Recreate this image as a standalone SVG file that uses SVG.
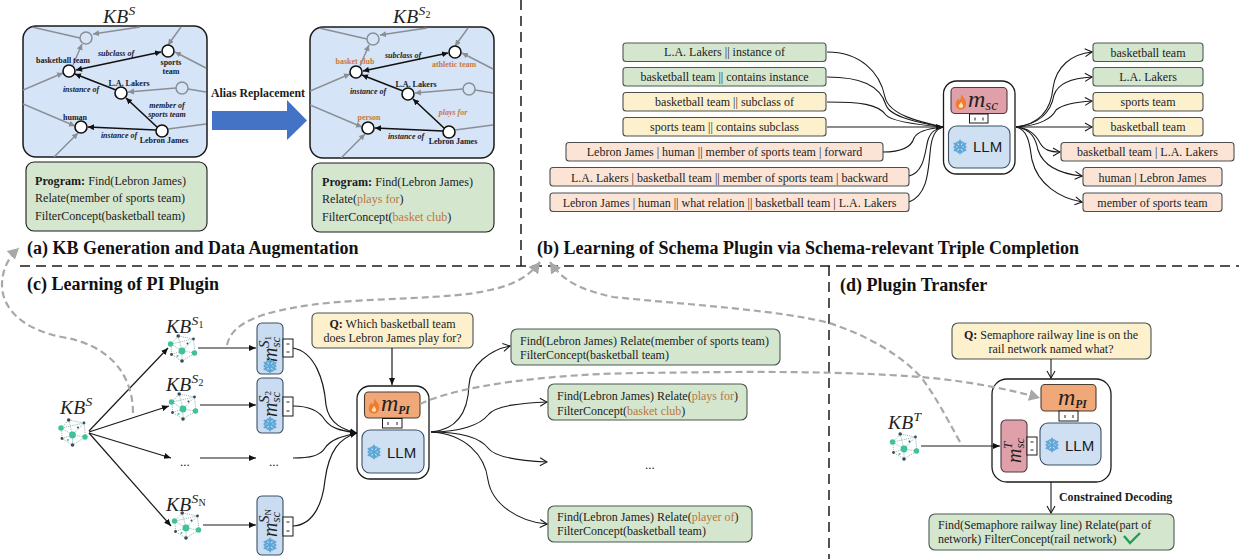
<svg xmlns="http://www.w3.org/2000/svg" width="1239" height="559" viewBox="0 0 1239 559">
<style>
text{font-family:"Liberation Serif","Times New Roman",serif;fill:#1c1c1c}
.t{font-size:12px;text-anchor:middle}
.s{font-size:12px}
.p{font-size:12.1px}
.title{font-size:18px;font-weight:bold;fill:#111}
.b{font-weight:bold}
.o{fill:#b9773f}
.n{font-size:8px;font-weight:bold;text-anchor:middle;fill:#16202c}
.ni{font-size:8px;font-weight:bold;font-style:italic;text-anchor:middle;fill:#16202c}
.no{font-size:8px;font-weight:bold;text-anchor:middle;fill:#c9793f}
.kb{font-size:19.5px;font-style:italic;fill:#222;letter-spacing:.3px}
.kb .sup{font-size:13.5px}
.kb .sub{font-size:10px;font-style:normal}
.m{font-size:24px;font-style:italic;fill:#222}
.m .sc{font-size:15px}
.m .pi{font-size:11.5px;font-weight:bold}
.r{font-size:20px}
.r .sc{font-size:13px}
.rs{font-size:15px;font-style:italic;fill:#222}
.rs tspan{font-size:9px;font-style:normal}
.llm{font-family:"Liberation Sans",Arial,sans-serif;font-size:15px;fill:#1a1a1a}
.kbbox{fill:#d6e4f7;stroke:#1a1a1a;stroke-width:1.5}
.green{fill:#d5e6cf;stroke:#4a5a52;stroke-width:1.1}
.yellow{fill:#fdf0cd;stroke:#4a5052;stroke-width:1.1}
.peach{fill:#fbe4d6;stroke:#4a5052;stroke-width:1.1}
.outer{fill:#fff;stroke:#1a1a1a;stroke-width:1.3}
.llmbox{fill:#cfe0f3;stroke:#3a5064;stroke-width:1.1}
.msc{fill:#dfa0a9;stroke:#4a3c40;stroke-width:1.1}
.mpi{fill:#f0a878;stroke:#4a3c30;stroke-width:1.1}
.side{fill:#c9dcf2;stroke:#3a5064;stroke-width:1.1}
.plug{fill:#fff;stroke:#1a1a1a;stroke-width:1}
.tick{stroke:#222;stroke-width:1}
.gr{fill:none;stroke:#8a8f96;stroke-width:1.5}
.gra{fill:none;stroke:#8a8f96;stroke-width:1.5;marker-end:url(#ga)}
.bk{fill:none;stroke:#111;stroke-width:1.6;marker-end:url(#ba)}
.gn{fill:#d6e4f7;stroke:#8a8f96;stroke-width:1.5}
.wn{fill:#fff;stroke:#111;stroke-width:1.6}
.cv{fill:none;stroke:#1a1a1a;stroke-width:1.1}
.cvo{fill:none;stroke:#1a1a1a;stroke-width:1.1;marker-end:url(#oa)}
.cvf{fill:none;stroke:#1a1a1a;stroke-width:1.2;marker-end:url(#fa)}
.dash{fill:none;stroke:#a8a8a8;stroke-width:2.2;stroke-dasharray:7 4;marker-end:url(#da)}
.div{fill:none;stroke:#1a1a1a;stroke-width:1.5;stroke-dasharray:10 6}
</style>
<defs>
<marker id="ga" markerUnits="userSpaceOnUse" markerWidth="7" markerHeight="7" refX="6" refY="3" orient="auto"><path d="M0 0L6 3L0 6z" fill="#8a8f96"/></marker>
<marker id="ba" markerUnits="userSpaceOnUse" markerWidth="7" markerHeight="7" refX="6" refY="3" orient="auto"><path d="M0 0L6 3L0 6z" fill="#111"/></marker>
<marker id="bs" markerUnits="userSpaceOnUse" markerWidth="7" markerHeight="7" refX="0" refY="3" orient="auto"><path d="M6 0L0 3L6 6z" fill="#111"/></marker>
<marker id="fa" markerUnits="userSpaceOnUse" markerWidth="8" markerHeight="8" refX="7" refY="3.5" orient="auto"><path d="M0 .5L7 3.5L0 6.5z" fill="#111"/></marker>
<marker id="oa" markerUnits="userSpaceOnUse" markerWidth="9" markerHeight="10" refX="8" refY="5" orient="auto"><path d="M1 1L8 5L1 9" fill="none" stroke="#1a1a1a" stroke-width="1.1"/></marker>
<marker id="da" markerUnits="userSpaceOnUse" markerWidth="13" markerHeight="12" refX="11" refY="6" orient="auto"><path d="M0 0L11 6L0 12z" fill="#a8a8a8"/></marker>
<g id="edges">
<path class="gr" d="M32 27L80 38"/>
<path class="gra" d="M140 27L93 34"/>
<path class="gra" d="M73 65L82 44"/>
<path class="gra" d="M181 27L168 45"/>
<path class="gra" d="M206 68L175 52"/>
<path class="gra" d="M23 90L63 73"/>
<path class="gr" d="M206 92L188 89"/>
<path class="gra" d="M176 88L128 92"/>
<path class="gra" d="M23 104L75 126"/>
<path class="gra" d="M54 157L78 133"/>
<path class="gr" d="M168 129L206 124"/>
<path class="bk" d="M156 130L88 127"/>
<path class="bk" d="M157 127L126 98"/>
<path class="bk" d="M116 90L75 74"/>
<path class="bk" style="marker-start:url(#bs)" d="M76 70L161 52"/>
<circle class="gn" cx="86" cy="38" r="6"/>
<circle class="gn" cx="182" cy="88" r="6"/>
<circle class="wn" cx="69" cy="71" r="6"/>
<circle class="wn" cx="168" cy="51" r="6"/>
<circle class="wn" cx="121" cy="93" r="6"/>
<circle class="wn" cx="81" cy="127" r="6"/>
<circle class="wn" cx="162" cy="131" r="6"/>
</g>
<g id="snow" stroke="#5ba6d6" stroke-width="1.8" fill="none" stroke-linecap="round">
<path d="M0 -6.5V6.5M-5.6 -3.2L5.6 3.2M-5.6 3.2L5.6 -3.2M-2 -5L0 -3L2 -5M-2 5L0 3L2 5M-5.5 -.5L-3 -1.5L-3.7 -4M5.5 .5L3 1.5L3.7 4M-5.5 .5L-3 1.5L-3.7 4M5.5 -.5L3 -1.5L3.7 -4"/>
</g>
<g id="flame">
<path d="M.5 -8C1.7 -4.5 5.5 -3 5.1 2.2C4.8 5.8 2.2 7.6 0 7.6C-2.9 7.6 -5.3 5.6 -5.3 2.2C-5.3 -.5 -3.6 -1.7 -2.9 -3.6C-2 -2.7 -1.7 -2 -1.5 -1.3C-.4 -2.7 .4 -5.2 .5 -8z" fill="#ef7d2c"/>
<path d="M0 0C1.1 1.7 2.4 2.8 2 4.7C1.5 6.2 -1.5 6.4 -2.2 4.4C-2.6 3.1 -.7 2.2 0 0z" fill="#fde3b8"/>
</g>
<g id="net">
<g stroke="#6f9f9d" stroke-width=".7" stroke-dasharray="1.2 1" fill="none">
<path d="M-11 -6L-3.800 -14L11.500 -11L13 3L0 11L-10.500 4.500z"/>
<path d="M-11 -6L0 1L13 3M-3.800 -14L0 1L0 11M11.500 -11L0 1L-10.500 4.500M-11 -6L11.500 -11"/>
</g>
<circle cx="0" cy="1" r="3.400" fill="#3fc19c"/>
<circle cx="-11.500" cy="-6" r="2.700" fill="#3fc19c"/>
<circle cx="12.500" cy="3" r="2.700" fill="#3fc19c"/>
<circle cx="-3.800" cy="-14" r="1.800" fill="#3d4a5a"/>
<circle cx="11.500" cy="-11" r="1.400" fill="#3d4a5a"/>
<circle cx="-10.500" cy="4.500" r="1.400" fill="#3d4a5a"/>
<circle cx="0" cy="11" r="1.800" fill="#3d4a5a"/>
<circle cx="-4.500" cy="6" r="1" fill="#3fc19c"/>
<circle cx="5.500" cy="-6.500" r="1" fill="#3d4a5a"/>
</g>
<clipPath id="kbc"><rect x="23" y="26" width="184" height="131" rx="13"/></clipPath>
</defs>

<text class="title" x="27" y="254">(a) KB Generation and Data Augmentation</text>
<text class="title" x="537" y="254">(b) Learning of Schema Plugin via Schema-relevant Triple Completion</text>
<text class="title" x="27" y="290">(c) Learning of PI Plugin</text>
<text class="title" x="840" y="291">(d) Plugin Transfer</text>

<g id="kb-s">
<rect class="kbbox" x="23" y="26" width="184" height="131" rx="13"/>
<use href="#edges" clip-path="url(#kbc)"/>
<text class="kb" x="103" y="23">KB<tspan class="sup" dy="-8">S</tspan></text>
<text class="n" x="63" y="63">basketball team</text>
<text class="n" x="171" y="65">sports</text>
<text class="n" x="171" y="74">team</text>
<text class="n" x="129" y="86">L.A. Lakers</text>
<text class="n" x="75" y="120">human</text>
<text class="n" x="164" y="143">Lebron James</text>
<text class="ni" x="116" y="56">subclass of</text>
<text class="ni" x="81" y="92">instance of</text>
<text class="ni" x="167" y="108">member of</text>
<text class="ni" x="167" y="117">sports team</text>
<text class="ni" x="119" y="138">instance of</text>
</g>
<g id="program-s">
<rect class="green" x="26" y="162" width="181" height="69" rx="8" style="stroke:#1a1a1a"/>
<text class="p" x="35" y="185"><tspan class="b">Program:</tspan> Find(Lebron James)</text>
<text class="p" x="35" y="202">Relate(member of sports team)</text>
<text class="p" x="35" y="220">FilterConcept(basketball team)</text>
</g>
<g id="alias">
<text class="b" style="font-size:11.8px" x="211" y="97">Alias Replacement</text>
<path d="M212 111H287V100L307 120.500L287 140V130H212z" fill="#4472c4"/>
</g>
<g id="kb-s2">
<rect class="kbbox" x="310" y="27" width="184" height="131" rx="13"/>
<g transform="translate(287 1)"><use href="#edges" clip-path="url(#kbc)"/></g>
<text class="kb" x="393" y="23">KB<tspan class="sup" dy="-8">S</tspan><tspan class="sub" dy="3">2</tspan></text>
<text class="no" x="355" y="64">basket club</text>
<text class="no" x="454" y="67">athletic team</text>
<text class="n" x="416" y="87">L.A. Lakers</text>
<text class="no" x="369" y="120">person</text>
<text class="n" x="453" y="144">Lebron James</text>
<text class="ni" x="403" y="58">subclass of</text>
<text class="ni" x="368" y="94">instance of</text>
<text class="no" style="font-style:italic" x="453" y="115">plays for</text>
<text class="ni" x="406" y="139">instance of</text>
</g>
<g id="program-s2">
<rect class="green" x="312" y="163" width="182" height="69" rx="8" style="stroke:#1a1a1a"/>
<text class="p" x="322" y="186"><tspan class="b">Program:</tspan> Find(Lebron James)</text>
<text class="p" x="322" y="203">Relate(<tspan class="o">plays for</tspan>)</text>
<text class="p" x="322" y="221">FilterConcept(<tspan class="o">basket club</tspan>)</text>
</g>

<g id="in1"><rect class="green" x="623" y="43" width="203" height="18.500" rx="3"/><text class="t" x="724.500" y="56">L.A. Lakers || instance of</text></g>
<g id="in2"><rect class="green" x="623" y="67.500" width="203" height="18.500" rx="3"/><text class="t" x="724.500" y="81">basketball team || contains instance</text></g>
<g id="in3"><rect class="yellow" x="623" y="92.500" width="203" height="18.500" rx="3"/><text class="t" x="724.500" y="106">basketball team || subclass of</text></g>
<g id="in4"><rect class="yellow" x="623" y="117.500" width="203" height="18.500" rx="3"/><text class="t" x="724.500" y="131">sports team || contains subclass</text></g>
<g id="in5"><rect class="peach" x="566" y="142.500" width="317" height="18.500" rx="3"/><text class="t" x="724.500" y="156">Lebron James | human || member of sports team | forward</text></g>
<g id="in6"><rect class="peach" x="550" y="167.500" width="359" height="18.500" rx="3"/><text class="t" x="729.500" y="182">L.A. Lakers | basketball team || member of sports team | backward</text></g>
<g id="in7"><rect class="peach" x="550" y="193" width="359" height="18.500" rx="3"/><text class="t" x="729.500" y="207">Lebron James | human || what relation || basketball team | L.A. Lakers</text></g>

<g id="out1"><rect class="green" x="1093" y="43" width="110" height="18.500" rx="3"/><text class="t" x="1148" y="57">basketball team</text></g>
<g id="out2"><rect class="green" x="1093" y="67.500" width="110" height="18.500" rx="3"/><text class="t" x="1148" y="81">L.A. Lakers</text></g>
<g id="out3"><rect class="yellow" x="1093" y="92.500" width="110" height="18.500" rx="3"/><text class="t" x="1148" y="106">sports team</text></g>
<g id="out4"><rect class="yellow" x="1093" y="117.500" width="110" height="18.500" rx="3"/><text class="t" x="1148" y="131">basketball team</text></g>
<g id="out5"><rect class="peach" x="1061" y="142.500" width="173" height="18.500" rx="3"/><text class="t" x="1147.500" y="156">basketball team | L.A. Lakers</text></g>
<g id="out6"><rect class="peach" x="1083" y="167.500" width="139" height="18.500" rx="3"/><text class="t" x="1152.500" y="182">human | Lebron James</text></g>
<g id="out7"><rect class="peach" x="1083" y="193" width="139" height="18.500" rx="3"/><text class="t" x="1152.500" y="207">member of sports team</text></g>

<g id="model-b">
<rect class="outer" x="943.500" y="81" width="71.500" height="93" rx="13"/>
<rect class="msc" x="951" y="87.500" width="56" height="26" rx="4"/>
<rect class="plug" x="969.500" y="114" width="18.500" height="9"/>
<path class="tick" d="M975 117.500v3M983 117.500v3"/>
<rect class="llmbox" x="948.500" y="126" width="61.500" height="42" rx="8"/>
<use href="#flame" x="961" y="102"/>
<text class="m" x="968" y="107">m<tspan class="sc" dy="3">sc</tspan></text>
<use href="#snow" x="960" y="147"/>
<text class="llm" x="973" y="152">LLM</text>
</g>

<g id="kb-root"><text class="kb" x="60" y="414">KB<tspan class="sup" dy="-8">S</tspan></text><use href="#net" x="72.500" y="434"/></g>
<g id="kb-s1"><text class="kb" x="166" y="333">KB<tspan class="sup" dy="-8">S</tspan><tspan class="sub" dy="3">1</tspan></text><use href="#net" x="182" y="350"/></g>
<g id="kb-s2b"><text class="kb" x="166" y="391">KB<tspan class="sup" dy="-8">S</tspan><tspan class="sub" dy="3">2</tspan></text><use href="#net" x="183" y="408"/></g>
<g id="kb-dots"><text style="font-size:13px" x="180" y="466">...</text><text style="font-size:13px" x="269" y="466">...</text></g>
<g id="kb-sn"><text class="kb" x="166" y="511">KB<tspan class="sup" dy="-8">S</tspan><tspan class="sub" dy="3">N</tspan></text><use href="#net" x="186" y="527"/></g>

<g id="plugin-s1">
<rect class="side" x="257" y="323" width="26" height="51" rx="5"/>
<rect class="plug" x="283" y="339" width="10" height="18"/><path class="tick" d="M286.500 344h3M286.500 352h3"/>
<text class="m r" transform="translate(277 362) rotate(-90)">m<tspan class="sc" dy="3">sc</tspan></text>
<text class="rs" transform="translate(269 348) rotate(-90)">S<tspan dy="2">1</tspan></text>
<use href="#snow" x="270" y="366"/>
</g>
<g id="plugin-s2">
<rect class="side" x="257" y="378" width="26" height="55" rx="5"/>
<rect class="plug" x="283" y="397" width="10" height="19"/><path class="tick" d="M286.500 402h3M286.500 411h3"/>
<text class="m r" transform="translate(277 417) rotate(-90)">m<tspan class="sc" dy="3">sc</tspan></text>
<text class="rs" transform="translate(269 403) rotate(-90)">S<tspan dy="2">2</tspan></text>
<use href="#snow" x="270" y="424"/>
</g>
<g id="plugin-sn">
<rect class="side" x="257" y="496" width="26" height="59" rx="5"/>
<rect class="plug" x="283" y="517" width="10" height="19"/><path class="tick" d="M286.500 522h3M286.500 531h3"/>
<text class="m r" transform="translate(277 537) rotate(-90)">m<tspan class="sc" dy="3">sc</tspan></text>
<text class="rs" transform="translate(269 523) rotate(-90)">S<tspan dy="2">N</tspan></text>
<use href="#snow" x="270" y="545"/>
</g>

<g id="question-c">
<rect class="yellow" x="312" y="313" width="161" height="35" rx="5"/>
<text class="t" x="392.500" y="328"><tspan class="b">Q:</tspan> Which basketball team</text>
<text class="t" x="392.500" y="342">does Lebron James play for?</text>
</g>
<g id="model-c">
<rect class="outer" x="357" y="386" width="72" height="93" rx="13"/>
<rect class="mpi" x="364.500" y="392" width="55.500" height="26" rx="4"/>
<rect class="plug" x="382.500" y="418.500" width="19.500" height="9.500"/>
<path class="tick" d="M388 422v3M397 422v3"/>
<rect class="llmbox" x="362" y="430" width="62" height="43" rx="8"/>
<use href="#flame" x="374" y="406"/>
<text class="m" x="381" y="411">m<tspan class="pi" dy="3">PI</tspan></text>
<use href="#snow" x="374" y="452"/>
<text class="llm" x="387" y="458">LLM</text>
</g>
<g id="res1"><rect class="green" x="511" y="329" width="269" height="36" rx="6"/><text class="s" x="520" y="345">Find(Lebron James) Relate(member of sports team)</text><text class="s" x="520" y="359">FilterConcept(basketball team)</text></g>
<g id="res2"><rect class="green" x="548" y="384" width="199" height="36" rx="6"/><text class="s" x="557" y="400">Find(Lebron James) Relate(<tspan class="o">plays for</tspan>)</text><text class="s" x="557" y="415">FilterConcept(<tspan class="o">basket club</tspan>)</text></g>
<text style="font-size:13px" x="645" y="469">...</text>
<g id="res3"><rect class="green" x="548" y="506" width="204" height="36" rx="6"/><text class="s" x="557" y="521">Find(Lebron James) Relate(<tspan class="o">player of</tspan>)</text><text class="s" x="557" y="535">FilterConcept(basketball team)</text></g>

<g id="question-d">
<rect class="yellow" x="952" y="323" width="199" height="36" rx="6"/>
<text class="t" x="1051" y="339"><tspan class="b">Q:</tspan> Semaphore railway line is on the</text>
<text class="t" x="1051" y="353">rail network named what?</text>
</g>
<g id="model-d">
<rect class="outer" x="992" y="379" width="119" height="103" rx="15"/>
<rect class="mpi" x="1041" y="384.500" width="55" height="26.500" rx="4"/>
<text class="m" x="1058" y="405">m<tspan class="pi" dy="3">PI</tspan></text>
<rect class="plug" x="1059" y="411" width="19" height="10"/>
<path class="tick" d="M1065 415v3M1073 415v3"/>
<rect class="llmbox" x="1040" y="423" width="61" height="42" rx="8"/>
<use href="#snow" x="1052" y="445"/>
<text class="llm" x="1065" y="451">LLM</text>
<rect class="msc" x="1001" y="420" width="26" height="52" rx="5"/>
<rect class="plug" x="1027" y="437" width="10" height="18"/><path class="tick" d="M1030.500 442h3M1030.500 450h3"/>
<text class="m r" transform="translate(1021 463) rotate(-90)">m<tspan class="sc" dy="3">sc</tspan></text>
<text class="rs" style="font-size:13px" transform="translate(1012 449) rotate(-90)">T</text>
</g>
<g id="kb-t"><text class="kb" x="888" y="429">KB<tspan class="sup" dy="-8">T</tspan></text><use href="#net" x="904" y="448"/></g>
<text class="b" style="font-size:11.9px" x="1059" y="501">Constrained Decoding</text>
<g id="res-d">
<rect class="green" x="929" y="514" width="245" height="36" rx="6"/>
<text class="s" x="938" y="529">Find(Semaphore railway line) Relate(part of</text>
<text class="s" x="938" y="543">network) FilterConcept(rail network)</text>
<path d="M1124 536L1130 543L1140 533" fill="none" stroke="#1f9e5a" stroke-width="2.400"/>
</g>

<g id="connectors">
<path class="div" d="M521 0V266"/>
<path class="div" d="M20 266H1239"/>
<path class="div" d="M829 266V559"/>
<path class="cv" d="M827 52C860 52 880 72 885 97C889 115 920 122 943 127"/>
<path class="cv" d="M827 77C860 77 880 85 886 105C890 117 920 123 943 127"/>
<path class="cv" d="M827 102C860 102 878 104 886 115C892 122 920 125 943 127"/>
<path class="cvf" d="M827 127H943"/>
<path class="cv" d="M883 152C905 152 912 145 914 138C918 130 930 129 943 127"/>
<path class="cv" d="M909 176C925 172 925 150 928 140C931 131 936 129 943 127"/>
<path class="cv" d="M909 202C930 194 928 165 931 145C933 133 937 129 943 127"/>
<path class="cvo" d="M1016 127C1040 124 1051 110 1053 88C1056 66 1072 54 1092 52"/>
<path class="cvo" d="M1016 127C1040 124 1051 112 1054 95C1058 83 1072 78 1092 77"/>
<path class="cvo" d="M1016 127C1040 126 1052 118 1056 110C1062 105 1075 102 1092 101"/>
<path class="cvo" d="M1016 127H1092"/>
<path class="cvo" d="M1016 127C1030 128 1036 135 1040 143C1044 150 1050 152 1060 152"/>
<path class="cvo" d="M1016 127C1032 129 1036 140 1038 150C1044 168 1062 174 1082 176"/>
<path class="cvo" d="M1016 127C1030 130 1030 150 1032 160C1038 185 1060 198 1082 202"/>
<path class="cvf" d="M89 431L168 348"/>
<path class="cvf" d="M89 432L169 406"/>
<path class="cvf" d="M89 433L171 458"/>
<path class="cvf" d="M89 433L171 526"/>
<path class="cvf" d="M198 348H256"/>
<path class="cvf" d="M200 405H256"/>
<path class="cvf" d="M200 458H256"/>
<path class="cvf" d="M203 525H256"/>
<path class="cvf" d="M293 348C315 352 324 380 326 405C329 425 345 430 357 433"/>
<path class="cvf" d="M293 406C310 406 320 412 325 420C332 430 345 431 357 433"/>
<path class="cvf" d="M293 458C310 458 320 456 325 448C332 438 345 436 357 433"/>
<path class="cvf" d="M293 526C315 525 323 500 325 480C329 450 340 438 357 433"/>
<path class="cvo" d="M431 432C455 430 468 415 469 385C470 365 490 350 510 346"/>
<path class="cvo" d="M431 432C460 432 480 425 488 415C495 405 525 403 547 402"/>
<path class="cvo" d="M431 432C460 432 480 438 488 448C495 458 525 461 547 462"/>
<path class="cvo" d="M431 432C465 434 485 455 488 480C492 505 520 522 547 524"/>
<path class="cvf" d="M392 348V385"/>
<path class="cvo" d="M1051 359V378"/>
<path class="cvf" d="M921 446H1000"/>
<path class="cvo" d="M1051 482V513"/>
<path class="dash" d="M133 413C133 375 110 345 62 337C25 330 2 310 2 285C2 270 8 258 19 248"/>
<path class="dash" d="M227 345C232 322 262 312 310 305C370 297 450 300 490 290C515 285 530 275 540 262"/>
<path class="dash" d="M960 442C945 415 935 395 920 376C895 350 860 333 829 323C780 310 690 305 613 297C580 290 562 280 550 262"/>
<path class="dash" d="M420 404C460 385 550 374 640 373C720 372 830 370 920 377C960 380 1005 388 1040 398"/>
</g>
</svg>
